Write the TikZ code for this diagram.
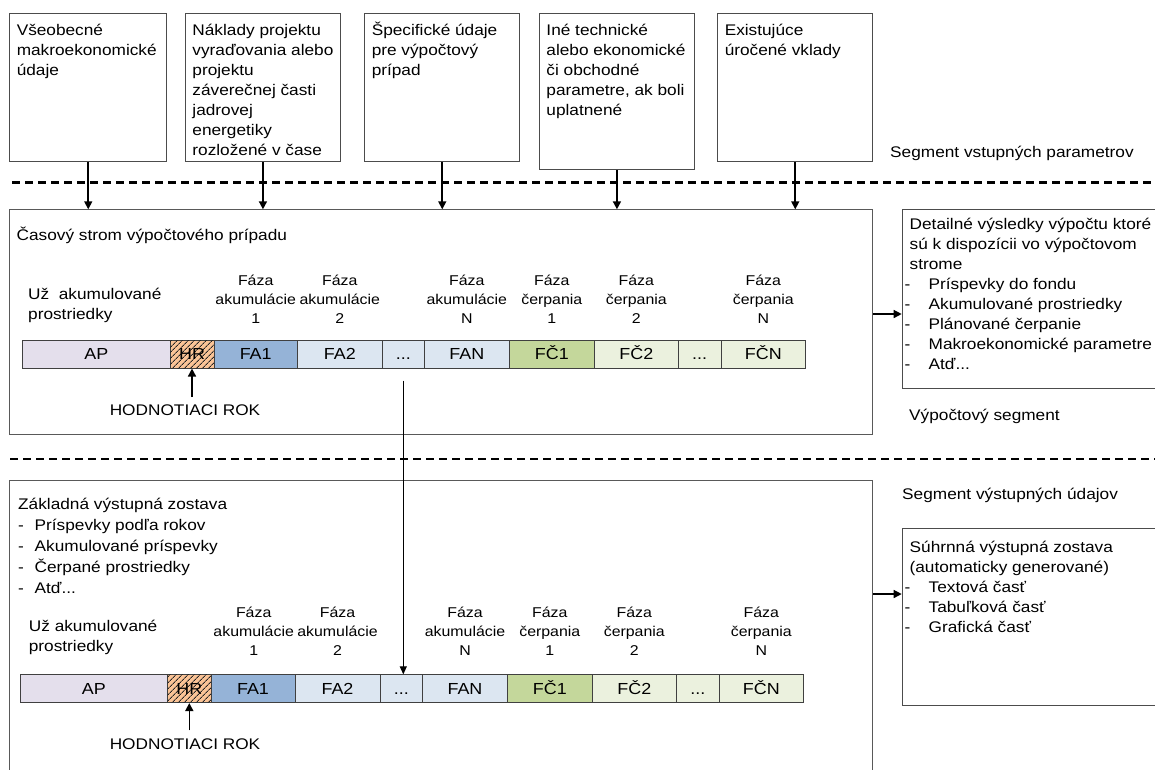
\documentclass[tikz,border=0pt]{standalone}
\usepackage{fontspec}
\setmainfont{Liberation Sans}[FakeStretch=1.12]
\usetikzlibrary{arrows.meta,patterns.meta}
\definecolor{ap_lila}{RGB}{228,223,236}
\definecolor{hr_oran}{RGB}{250,195,150}
\definecolor{fa_dark}{RGB}{149,179,215}
\definecolor{fa_light}{RGB}{220,230,241}
\definecolor{fc_dark}{RGB}{196,215,155}
\definecolor{fc_light}{RGB}{235,241,222}
\newcommand{\txtn}{\fontsize{15.4}{20}\selectfont}
\newcommand{\txtl}{\fontsize{15.4}{21}\selectfont}
\newcommand{\txtf}{\fontsize{14.2}{19}\selectfont}
\newcommand{\txtc}{\fontsize{16}{19}\selectfont}
\newcommand{\odr}[1][24pt]{\makebox[#1][l]{-}}
\tikzstyle{inbox}=[draw=black!70,line width=0.9pt,anchor=north west,
  inner xsep=7pt,inner ysep=7.5pt,font=\txtn]
\tikzstyle{zbox}=[draw=black!65,line width=1pt,anchor=north west,inner sep=0pt]
\tikzstyle{cell}=[draw=black!75,line width=0.7pt,minimum height=28pt,
  inner sep=0pt,text height=11.5pt,text depth=0pt,font=\txtc]
\tikzstyle{hatch}=[fill=hr_oran,postaction={pattern={Lines[angle=45,distance=4pt,
  line width=0.9pt]},pattern color=black!85}]
\tikzstyle{faza}=[anchor=north,align=center,inner sep=0pt,font=\txtf]
\tikzstyle{txt}=[anchor=north west,align=left,inner sep=0pt,font=\txtn]
\tikzstyle{arr}=[line width=1.6pt,-{Triangle[length=8pt,width=8pt]}]
\tikzstyle{link}=[line width=1.1pt,-{Triangle[length=8pt,width=7pt]}]
\tikzstyle{seg}=[line width=2.5pt,dash pattern=on 8pt off 5pt]

\begin{document}
\begin{tikzpicture}[x=1pt,y=-1pt]
    \path[use as bounding box,clip] (0,0) rectangle (1155,769);
    % separators
    \draw[seg] (12,182.3) -- (1155,182.3);
    \draw[seg] (10,459) -- (1155,459);
    % input segment
    \node[inbox] (vmu) at (9.3,13.3) {\parbox[t][133pt][t]{143pt}{\raggedright\strut
      Všeobecné\\makroekonomické\\údaje}};
    \node[inbox] (naklady) at (185,13.3) {\parbox[t][133pt][t]{141pt}{\raggedright\strut
      Náklady projektu\\vyraďovania alebo\\projektu\\záverečnej časti\\jadrovej\\energetiky\\rozložené v čase}};
    \node[inbox] (specif) at (364.3,13.3) {\parbox[t][133pt][t]{141pt}{\raggedright\strut
      Špecifické údaje\\pre výpočtový\\prípad}};
    \node[inbox] (ine) at (539,13.3) {\parbox[t][141pt][t]{141pt}{\raggedright\strut
      Iné technické\\alebo ekonomické\\či obchodné\\parametre, ak boli\\uplatnené}};
    \node[inbox] (vklady) at (717.3,13.3) {\parbox[t][133pt][t]{141pt}{\raggedright\strut
      Existujúce\\úročené vklady}};
    \node[txt,anchor=base west] (segvst) at (890,157) {Segment vstupných parametrov};
    % calculation segment
    \node[zbox,minimum width=863pt,minimum height=225pt] (tree) at (9.3,209.3) {};
    \node[txt,anchor=base west] (tnazov) at (16.5,240.7) {Časový strom výpočtového prípadu};
    \node[txt] (uzA) at (28,285) {\strut Už\ \ akumulované\\prostriedky};
    \node[faza] (pfa1A) at (255.7,272) {\strut Fáza\\akumulácie\\1};
    \node[faza] (pfa2A) at (339.8,272) {\strut Fáza\\akumulácie\\2};
    \node[faza] (pfanA) at (466.8,272) {\strut Fáza\\akumulácie\\N};
    \node[faza] (pfc1A) at (551.8,272) {\strut Fáza\\čerpania\\1};
    \node[faza] (pfc2A) at (636.3,272) {\strut Fáza\\čerpania\\2};
    \node[faza] (pfcnA) at (763.3,272) {\strut Fáza\\čerpania\\N};
    \node[cell,fill=ap_lila,minimum width=147.3pt] (apA) at (96.3,354.2) {AP};
    \node[cell,hatch,minimum width=44pt] (hrA) at (192,354.2) {HR};
    \node[cell,fill=fa_dark,minimum width=83.3pt] (fa1A) at (255.7,354.2) {FA1};
    \node[cell,fill=fa_light,minimum width=85pt] (fa2A) at (339.8,354.2) {FA2};
    \node[cell,fill=fa_light,minimum width=42pt] (dtA) at (403.3,354.2) {...};
    \node[cell,fill=fa_light,minimum width=85pt] (fanA) at (466.8,354.2) {FAN};
    \node[cell,fill=fc_dark,minimum width=85pt] (fc1A) at (551.8,354.2) {FČ1};
    \node[cell,fill=fc_light,minimum width=84pt] (fc2A) at (636.3,354.2) {FČ2};
    \node[cell,fill=fc_light,minimum width=42.7pt] (dt2A) at (699.7,354.2) {...};
    \node[cell,fill=fc_light,minimum width=84.7pt] (fcnA) at (763.3,354.2) {FČN};
    \node[txt,anchor=base] (hodA) at (185,415) {HODNOTIACI ROK};
    \node[inbox,inner xsep=7.5pt,inner ysep=6pt] (detail) at (901.7,209.3) {\parbox[t][167pt][t]{238pt}{\raggedright\strut
      \mbox{Detailné výsledky výpočtu ktoré}\\\mbox{sú k dispozícii vo výpočtovom}\\strome\\
      \hspace*{-5pt}\odr Príspevky do fondu\\
      \hspace*{-5pt}\odr Akumulované prostriedky\\
      \hspace*{-5pt}\odr Plánované čerpanie\\
      \hspace*{-5pt}\mbox{\odr Makroekonomické parametre}\\
      \hspace*{-5pt}\odr Atď...}};
    \node[txt,anchor=base west] (segvyp) at (909,420.5) {Výpočtový segment};
    % output segment
    \node[zbox,minimum width=863pt,minimum height=330pt] (report) at (9.3,480) {};
    \node[txt,font=\txtl] (zost) at (18,494.6) {\strut Základná výstupná zostava\\
      \odr[16.5pt]Príspevky podľa rokov\\
      \odr[16.5pt]Akumulované príspevky\\
      \odr[16.5pt]Čerpané prostriedky\\
      \odr[16.5pt]Atď...};
    \node[txt] (uzB) at (28.7,617.7) {\strut Už akumulované\\prostriedky};
    \node[faza] (pfa1B) at (253.7,604.4) {\strut Fáza\\akumulácie\\1};
    \node[faza] (pfa2B) at (337.5,604.4) {\strut Fáza\\akumulácie\\2};
    \node[faza] (pfanB) at (465,604.4) {\strut Fáza\\akumulácie\\N};
    \node[faza] (pfc1B) at (549.8,604.4) {\strut Fáza\\čerpania\\1};
    \node[faza] (pfc2B) at (634.3,604.4) {\strut Fáza\\čerpania\\2};
    \node[faza] (pfcnB) at (761.3,604.4) {\strut Fáza\\čerpania\\N};
    \node[cell,fill=ap_lila,minimum width=147.7pt] (apB) at (93.8,688.7) {AP};
    \node[cell,hatch,minimum width=43.3pt] (hrB) at (189.3,688.7) {HR};
    \node[cell,fill=fa_dark,minimum width=84pt] (fa1B) at (253,688.7) {FA1};
    \node[cell,fill=fa_light,minimum width=85pt] (fa2B) at (337.5,688.7) {FA2};
    \node[cell,fill=fa_light,minimum width=42.7pt] (dtB) at (401.3,688.7) {...};
    \node[cell,fill=fa_light,minimum width=84.7pt] (fanB) at (465,688.7) {FAN};
    \node[cell,fill=fc_dark,minimum width=85pt] (fc1B) at (549.8,688.7) {FČ1};
    \node[cell,fill=fc_light,minimum width=84pt] (fc2B) at (634.3,688.7) {FČ2};
    \node[cell,fill=fc_light,minimum width=43pt] (dt2B) at (697.8,688.7) {...};
    \node[cell,fill=fc_light,minimum width=84pt] (fcnB) at (761.3,688.7) {FČN};
    \node[txt,anchor=base] (hodB) at (185,749.3) {HODNOTIACI ROK};
    \node[txt,anchor=base west] (segvys) at (902,499) {Segment výstupných údajov};
    \node[inbox,inner xsep=7.5pt,inner ysep=10pt] (suhrn) at (901.7,527.7) {\parbox[t][157pt][t]{238pt}{\raggedright\strut
      Súhrnná výstupná zostava\\(automaticky generované)\\
      \hspace*{-5pt}\odr Textová časť\\
      \hspace*{-5pt}\odr Tabuľková časť\\
      \hspace*{-5pt}\odr Grafická časť}};
    % connectors
    \draw[arr] (vmu.south) -- (vmu.south |- tree.north);
    \draw[arr] (naklady.south) -- (naklady.south |- tree.north);
    \draw[arr] (specif.south) -- (specif.south |- tree.north);
    \draw[arr] (ine.south) -- (ine.south |- tree.north);
    \draw[arr] (vklady.south) -- (vklady.south |- tree.north);
    \draw[arr,shorten <=7pt] (hrA.south |- hodA.north) -- (hrA.south);
    \draw[arr,shorten <=8pt] (hrB.south |- hodB.north) -- (hrB.south);
    \coordinate (lvA) at (0,314);
    \coordinate (lvB) at (0,594);
    \draw[arr,line width=1.3pt] (tree.east |- lvA) -- (detail.west |- lvA);
    \draw[arr,line width=1.3pt] (report.east |- lvB) -- (suhrn.west |- lvB);
    \draw[link,shorten <=12pt] (dtA.south) -- (dtA.south |- dtB.north);
\end{tikzpicture}
\end{document}
